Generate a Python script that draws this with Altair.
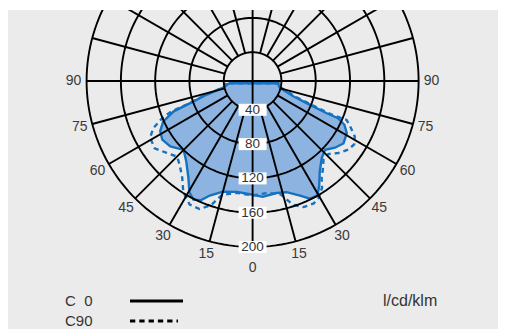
import math
import altair as alt
import pandas as pd

# ---------------- data (values in cd/klm, angles in degrees from nadir) -------------
RINGS = [40, 80, 120, 160, 200]
ANGLE_TICKS = [90, 75, 60, 45, 30, 15, 0]

# C0 plane, left half (C180), from the horizontal towards nadir
C0_L_ANG = [85, 78, 73.5, 70.5, 69, 65.5, 61.5, 57, 51.5, 45, 39.5, 33.5, 29.5, 26.5, 23.5, 20.5, 15, 8, 0]
C0_L_VAL = [34, 40, 62, 83, 105, 121, 129, 132, 129, 120, 128, 142, 156, 161, 158, 149, 140, 137, 139]
# C0 plane, right half, from nadir towards the horizontal
C0_R_ANG = [0, 5, 12, 17, 22.5, 26, 29.5, 32.5, 36.5, 42, 46.5, 51, 55.5, 61, 64.5, 66.5, 66.5, 67.5, 69.5, 76, 85]
C0_R_VAL = [139, 142, 140, 142, 151, 159, 160, 151, 138, 127, 123, 130, 135, 132, 125, 115, 100, 79, 57, 39, 36]

# C90 plane
C90_L_ANG = [85, 78, 73.5, 70.5, 69.5, 68, 64.5, 61, 55.5, 50, 45, 41, 36, 32, 27, 22.5, 18.5, 15, 8, 0]
C90_L_VAL = [37, 41, 64, 86, 107, 119, 135, 143, 145, 137, 131, 136, 146, 159, 168, 168, 159, 144, 138, 140]
C90_R_ANG = [0, 8, 14, 18, 22, 26.5, 29.5, 33, 35.5, 38.5, 42, 46, 50, 54.5, 58, 61.5, 65, 67.5, 67, 68, 70, 77, 85]
C90_R_VAL = [140, 138, 143, 158, 165, 166, 163, 155, 145, 138, 130, 129, 137, 144, 146, 142, 132, 125, 106, 81, 59, 40, 37]

LEGEND = ["C\u20070", "C90"]
UNIT = "l/cd/klm"

# ---------------- geometry helpers ----------------
K = 0.8575      # px per cd/klm
I0 = 6.4        # radial offset of the diagram centre
W, H = 490, 319
CX, CY = 244.6, 71.0   # centre inside plot area (px)
LINE = "#1572c0"
FILL = "#8db4e1"
FONT = "Liberation Sans"


def xy(side, g, v):
    r = max(v - I0, 0.0)
    t = math.radians(g)
    return side * r * math.sin(t), -r * math.cos(t)


def curve(l_ang, l_val, r_ang, r_val):
    pts = [xy(-1, g, v) for g, v in zip(l_ang, l_val)] + [xy(1, g, v) for g, v in zip(r_ang, r_val)]
    pts.append(pts[0])
    return pd.DataFrame({"i": range(len(pts)), "x": [p[0] for p in pts], "y": [p[1] for p in pts]})


c0 = curve(C0_L_ANG, C0_L_VAL, C0_R_ANG, C0_R_VAL)
c90 = curve(C90_L_ANG, C90_L_VAL, C90_R_ANG, C90_R_VAL)

ring_rows = []
for v in RINGS:
    for k, a in enumerate(range(0, 361, 2)):
        x, y = xy(1, a, v)
        ring_rows.append({"ring": v, "i": k, "x": x, "y": y})
rings = pd.DataFrame(ring_rows)

spoke_rows = []
for a in range(0, 360, 15):
    inner = 0 if a % 90 == 0 else RINGS[0]
    x1, y1 = xy(1, a, max(inner, I0))
    x2, y2 = xy(1, a, RINGS[-1])
    spoke_rows.append({"x": x1, "y": y1, "x2": x2, "y2": y2})
spokes = pd.DataFrame(spoke_rows)

ring_lab = pd.DataFrame({"t": [str(v) for v in RINGS], "x": [0.0] * len(RINGS),
                         "y": [xy(1, 0, v)[1] for v in RINGS]})

ang_rows = []
for side in (-1, 1):
    for a in ANGLE_TICKS:
        if a == 0 and side == 1:
            continue
        rad = (187 if a == 0 else 179) / K + I0
        x, y = xy(side, a, rad)
        ang_rows.append({"t": str(a), "x": x, "y": y})
ang_lab = pd.DataFrame(ang_rows)

xs = alt.Scale(domain=[-CX / K, (W - CX) / K], nice=False, zero=False)
ys = alt.Scale(domain=[-(H - CY) / K, CY / K], nice=False, zero=False)
X = lambda f="x": alt.X(f"{f}:Q", scale=xs, axis=None)
Y = lambda f="y": alt.Y(f"{f}:Q", scale=ys, axis=None)

fill_layer = alt.Chart(c0).mark_line(fill=FILL, stroke=LINE, strokeWidth=2.4, clip=True).encode(
    x=X(), y=Y(), order="i:Q")
dash_layer = alt.Chart(c90).mark_line(stroke=LINE, strokeWidth=2.4, strokeDash=[5, 4], clip=True).encode(
    x=X(), y=Y(), order="i:Q")
ring_layer = alt.Chart(rings).mark_line(stroke="black", strokeWidth=1.9, clip=True).encode(
    x=X(), y=Y(), detail="ring:N", order="i:Q")
spoke_layer = alt.Chart(spokes).mark_rule(stroke="black", strokeWidth=1.9, clip=True).encode(
    x=X(), y=Y(), x2="x2:Q", y2="y2:Q")
box_layer = alt.Chart(ring_lab).mark_point(
    shape="M-1,-0.43L1,-0.43L1,0.43L-1,0.43Z", size=784, filled=True, fill="white",
    strokeWidth=0, opacity=1).encode(x=X(), y=Y())
ring_text = alt.Chart(ring_lab).mark_text(font=FONT, fontSize=13.5, color="#333333",
                                          align="center", baseline="middle").encode(
    x=X(), y=Y(), text="t:N")
ang_text = alt.Chart(ang_lab).mark_text(font=FONT, fontSize=14, color="#3a3a3a",
                                        align="center", baseline="middle").encode(
    x=X(), y=Y(), text="t:N")

leg0 = alt.Chart(pd.DataFrame({"t": [LEGEND[0]]})).mark_text(
    font=FONT, fontSize=15, color="#333333", align="left", baseline="middle").encode(
    x=alt.value(57), y=alt.value(291), text="t:N")
leg1 = alt.Chart(pd.DataFrame({"t": [LEGEND[1]]})).mark_text(
    font=FONT, fontSize=15, color="#333333", align="left", baseline="middle").encode(
    x=alt.value(57), y=alt.value(311), text="t:N")
leg_solid = alt.Chart(pd.DataFrame({"t": [LEGEND[0]]})).mark_rule(stroke="black", strokeWidth=3).encode(
    x=alt.value(122), x2=alt.value(175), y=alt.value(291))
leg_dash = alt.Chart(pd.DataFrame({"t": [LEGEND[1]]})).mark_rule(
    stroke="black", strokeWidth=3, strokeDash=[5.3, 4]).encode(
    x=alt.value(122), x2=alt.value(170), y=alt.value(311))
unit_text = alt.Chart(pd.DataFrame({"t": [UNIT]})).mark_text(
    font=FONT, fontSize=16, color="#333333", align="left", baseline="middle").encode(
    x=alt.value(375), y=alt.value(291), text="t:N")

chart = alt.layer(fill_layer, dash_layer, ring_layer, spoke_layer, box_layer, ring_text, ang_text,
                  leg0, leg1, leg_solid, leg_dash, unit_text).properties(
    width=W, height=H, background="white",
    padding={"left": 0, "top": 2, "right": 0, "bottom": 0},
    autosize=alt.AutoSizeParams(type="none"),
).configure_view(fill="#ebebeb", strokeWidth=0)

chart.save("out.html", embed_options={"renderer": "svg", "actions": False})
